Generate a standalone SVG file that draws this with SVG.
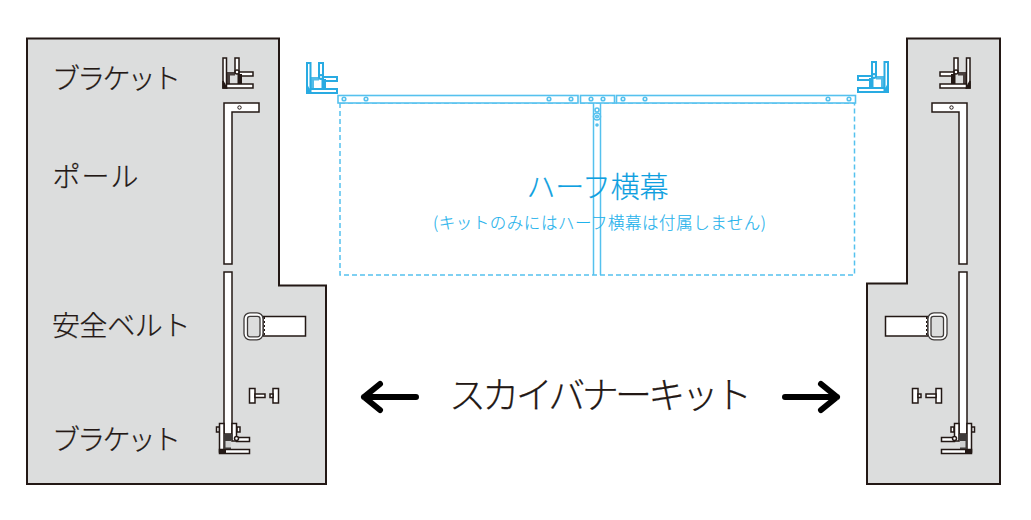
<svg xmlns="http://www.w3.org/2000/svg" xmlns:xlink="http://www.w3.org/1999/xlink" width="1031" height="520" viewBox="0 0 1031 520">
<style>
text{font-family:"Noto Sans CJK JP","Noto Sans",sans-serif;font-weight:300}
.lab{font-size:28px;fill:#231815;stroke:#231815;stroke-width:.25}
.panel{fill:#dcdddd;stroke:#231815;stroke-width:2}
.part{fill:#fff;stroke:#231815;stroke-width:1.500}
.thin{fill:none;stroke:#231815;stroke-width:1}
.blue{fill:#fff;stroke:#55c1ee;stroke-width:1.600}
.dash{fill:none;stroke:#55c1ee;stroke-width:1.500;stroke-dasharray:5 3}
.arr{fill:none;stroke:#000;stroke-width:6;stroke-linecap:round;stroke-linejoin:round}
</style>
<defs>
<g id="bracket" fill="#fff">
<path d="M1 1H4.500V31H1Z"/>
<path d="M13 1H17V15H13Z"/>
<path d="M4.500 27H31V31H4.500Z"/>
<path d="M17 15H31V19H17Z"/>
<path d="M4.500 15H13V18.500H8V27H4.500Z" stroke="none" fill="currentColor" opacity=".8"/>
<path d="M15.500 17H20V27H15.500Z" fill="currentColor" stroke="none"/>
<path d="M1 24L4.500 31H1Z" fill="currentColor"/>
<circle cx="15" cy="15" r="2"/>
</g>
<g id="baseb">
<path class="part" d="M216.500 427H219.500V432H216.500Z"/>
<path class="part" d="M237 427H240V432H237Z"/>
<path class="part" d="M219.500 423.500H224V452H219.500Z"/>
<path class="part" d="M232 423.500H236.500V441H232Z"/>
<path class="part" d="M236.500 437.500H249.500V441.500H236.500Z"/>
<path class="part" d="M219.500 449.500H249.500V453.500H219.500Z"/>
<path d="M224 434H232.500V440H231V449H224Z" fill="#3e3a39"/>
<path d="M225.500 441H231V447.500H225.500Z" fill="#cfd0d0"/>
<path d="M219.500 449.500H226V453.500H219.500Z" fill="#231815"/>
<circle class="part" cx="236.500" cy="438.500" r="2"/>
</g>
<g id="pole">
<path class="part" d="M224 103H259V112H232V264H224Z"/>
<circle class="thin" cx="239.500" cy="107.500" r="1.700" stroke-width="1.500"/>
<path class="part" d="M224 272H232V434H224Z"/>
</g>
<g id="belt">
<path class="part" d="M263 316.500H305.500V336H263Z"/>
<rect x="244" y="312.800" width="19" height="27" rx="6" fill="#fff" stroke="#3e3a39" stroke-width="1.300"/>
<rect x="247.500" y="316.300" width="12.500" height="20.500" rx="2.500" fill="#dcdddd" stroke="#3e3a39" stroke-width="1.300"/>
<path d="M264.500 317V336" fill="none" stroke="#231815" stroke-width="1" stroke-dasharray="2 2"/>
</g>
<g id="bolt">
<path class="part" d="M249.500 388.500H255V403H249.500Z"/>
<path class="part" d="M255 394H265V397.500H255Z"/>
<path class="part" d="M273 388.500H278.500V403H273Z"/>
<path class="part" d="M270 394H273V397.500H270Z"/>
</g>
</defs>

<g id="panel-left">
<path class="panel" d="M27 38.500H279V285.500H326V484H27Z"/>
<text class="lab" x="52" y="89" textLength="129">ブラケット</text>
<text class="lab" x="52.500" y="186.500" textLength="86">ポール</text>
<text class="lab" x="52" y="335.500" textLength="138.500">安全ベルト</text>
<text class="lab" x="52" y="450" textLength="129">ブラケット</text>
</g>
<g id="panel-right">
<path class="panel" d="M907 38.500H1000V484H867V283.500H907Z"/>
</g>

<g id="bracket-left-top" color="#231815" stroke="#231815" stroke-width="1.500"><use xlink:href="#bracket" x="222" y="57"/></g>
<g id="pole-left"><use xlink:href="#pole"/></g>
<g id="belt-left"><use xlink:href="#belt"/></g>
<g id="bolt-left"><use xlink:href="#bolt"/></g>
<g id="bracket-left-bottom"><use xlink:href="#baseb"/></g>

<g id="bracket-right-top" color="#231815" stroke="#231815" stroke-width="1.500"><use xlink:href="#bracket" transform="translate(971 57) scale(-1 1)"/></g>
<g id="pole-right"><use xlink:href="#pole" transform="translate(1191 0) scale(-1 1)"/></g>
<g id="belt-right"><use xlink:href="#belt" transform="translate(1191 0) scale(-1 1)"/></g>
<g id="bolt-right"><use xlink:href="#bolt" transform="translate(1191 0) scale(-1 1)"/></g>
<g id="bracket-right-bottom"><use xlink:href="#baseb" transform="translate(1191 0) scale(-1 1)"/></g>

<g id="half-banner">
<rect class="dash" x="340" y="103" width="514.500" height="172"/>
<path d="M593.500 103V275M600.500 103V275" fill="none" stroke="#55c1ee" stroke-width="1.500"/>
<rect class="blue" x="338" y="95.500" width="240" height="7.500"/>
<rect class="blue" x="580.500" y="95.500" width="34" height="7.500"/>
<rect class="blue" x="616.500" y="95.500" width="239" height="7.500"/>
<g class="blue" style="fill:none">
<circle cx="344" cy="99" r="1.800"/><circle cx="366" cy="99" r="1.800"/><circle cx="549" cy="99" r="1.800"/><circle cx="571" cy="99" r="1.800"/>
<circle cx="591" cy="99" r="1.800"/><circle cx="603" cy="99" r="1.800"/>
<circle cx="623" cy="99" r="1.800"/><circle cx="645" cy="99" r="1.800"/><circle cx="828" cy="99" r="1.800"/><circle cx="849" cy="99" r="1.800"/>
<circle cx="597" cy="110" r="2"/><circle cx="597" cy="116.500" r="3.500"/><circle cx="597" cy="116.500" r="1.300"/>
</g>
<circle cx="597" cy="125" r="1.800" fill="#55c1ee"/>
<text x="526.500" y="198" font-size="29" fill="#0e9fe0" stroke="#0e9fe0" stroke-width=".2" textLength="142">ハーフ横幕</text>
<text x="433" y="229" font-size="16.500" fill="#1fb2ec" stroke="#1fb2ec" stroke-width=".15" textLength="333">(キットのみにはハーフ横幕は付属しません)</text>
</g>
<g id="blue-bracket-left" color="#29abe2" stroke="#29abe2" stroke-width="2"><use xlink:href="#bracket" x="306" y="62"/></g>
<g id="blue-bracket-right" color="#29abe2" stroke="#29abe2" stroke-width="2"><use xlink:href="#bracket" transform="translate(889 61) scale(-1 1)"/></g>

<g id="kit-label"><text x="449" y="409" font-size="37" fill="#231815" stroke="#231815" stroke-width=".25" textLength="303">スカイバナーキット</text></g>
<g id="connectors">
<path class="arr" d="M416 397H364M380 384L364 397L380 410"/>
<path class="arr" d="M785 397H837M821 384L837 397L821 410"/>
</g>
</svg>
